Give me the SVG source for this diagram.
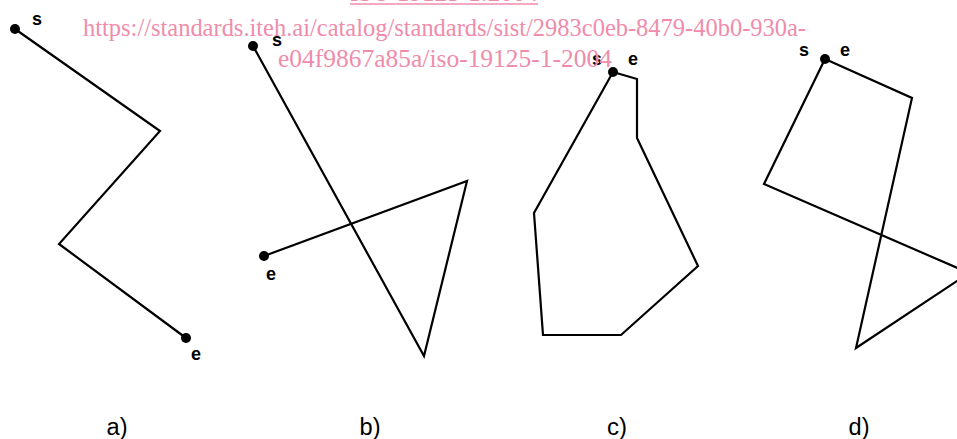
<svg xmlns="http://www.w3.org/2000/svg" width="957" height="439" viewBox="0 0 957 439">
<style>
.ln{fill:none;stroke:#000;stroke-width:2.2;stroke-linejoin:miter}
.dot{fill:#000}
.pt{font-family:"Liberation Sans",Arial,sans-serif;font-weight:bold;font-size:18px;fill:#000;text-anchor:middle}
.cap{font-family:"Liberation Sans",Arial,sans-serif;font-size:23px;fill:#000;text-anchor:middle}
.wm{font-family:"Liberation Serif","Times New Roman",serif;font-size:25.5px;fill:#f08cab}
</style>
<rect width="957" height="439" fill="#fff"/>
<g id="panel-a">
<polyline class="ln" points="15,29 160,131 59,244 186,338"/>
<circle class="dot" cx="15" cy="29" r="5"/>
<circle class="dot" cx="186" cy="338" r="5"/>
<text class="pt" x="37" y="25">s</text>
<text class="pt" x="196" y="360">e</text>
<text class="cap" x="117" y="435" textLength="21" lengthAdjust="spacingAndGlyphs">a)</text>
</g>
<g id="panel-b">
<polyline class="ln" points="253,46 424,356 467,181 264,256"/>
<circle class="dot" cx="253" cy="46" r="5"/>
<circle class="dot" cx="264" cy="256" r="5"/>
<text class="pt" x="277" y="46">s</text>
<text class="pt" x="271" y="280">e</text>
<text class="cap" x="370" y="435" textLength="21" lengthAdjust="spacingAndGlyphs">b)</text>
</g>
<g id="panel-c">
<polygon class="ln" points="613,72 637,79 637,138 698,266 621,335 543,335 534,213"/>
<circle class="dot" cx="613" cy="72" r="5"/>
<text class="pt" x="597" y="65">s</text>
<text class="pt" x="633" y="65">e</text>
<text class="cap" x="617" y="435" textLength="20" lengthAdjust="spacingAndGlyphs">c)</text>
</g>
<g id="panel-d">
<polygon class="ln" points="825,59 912,98 856,348 969,273 764,184"/>
<circle class="dot" cx="825" cy="59" r="5"/>
<text class="pt" x="804" y="56">s</text>
<text class="pt" x="845" y="56">e</text>
<text class="cap" x="859" y="435" textLength="21" lengthAdjust="spacingAndGlyphs">d)</text>
</g>
<g id="watermark">
<text class="wm" x="444" y="1" text-anchor="middle" textLength="188" lengthAdjust="spacingAndGlyphs">ISO 19125-1:2004</text>
<line x1="350" y1="4" x2="538" y2="4" stroke="#f08cab" stroke-width="1.5"/>
<text class="wm" x="83" y="36" textLength="723" lengthAdjust="spacingAndGlyphs">https://standards.iteh.ai/catalog/standards/sist/2983c0eb-8479-40b0-930a-</text>
<text class="wm" x="278" y="67" textLength="334" lengthAdjust="spacingAndGlyphs">e04f9867a85a/iso-19125-1-2004</text>
</g>
</svg>
